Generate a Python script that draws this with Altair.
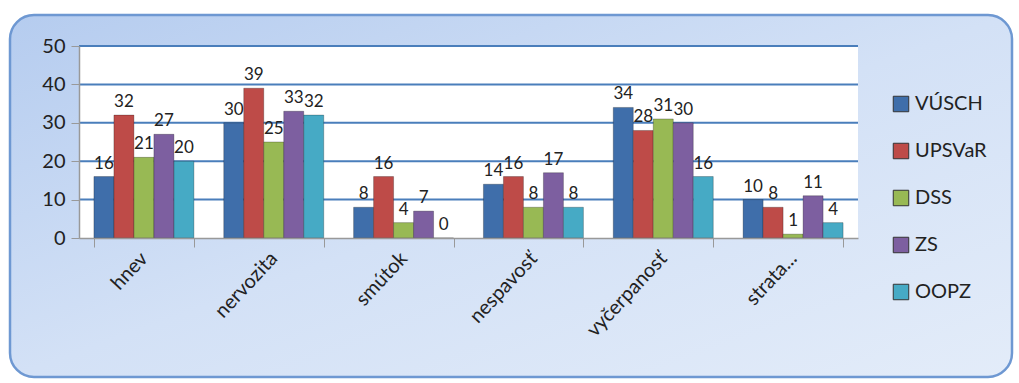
import altair as alt
import pandas as pd

categories = ["hnev", "nervozita", "smútok", "nespavosť", "vyčerpanosť", "strata..."]
series = ["VÚSCH", "UPSVaR", "DSS", "ZS", "OOPZ"]
colors = ["#3F6EAA", "#BE4B48", "#98B954", "#7D5FA0", "#46AAC5"]

vusch = [16, 30, 8, 14, 34, 10]
upsvar = [32, 39, 16, 16, 28, 8]
dss = [21, 25, 4, 8, 31, 1]
zs = [27, 33, 7, 17, 30, 11]
oopz = [20, 32, 0, 8, 16, 4]

y_ticks = [0, 10, 20, 30, 40, 50]

rows = []
for name, vals in zip(series, [vusch, upsvar, dss, zs, oopz]):
    for cat, v in zip(categories, vals):
        rows.append({"kategoria": cat, "skupina": name, "hodnota": v})
df = pd.DataFrame(rows)
grid_df = pd.DataFrame({"v": [t for t in y_ticks if t > 0]})
one = pd.DataFrame({"a": [0]})

FONT = "Lato"
W, H = 779, 192

y_scale = alt.Scale(domain=[0, 50], nice=False)
y_axis = alt.Axis(
    values=y_ticks,
    labelFontSize=20,
    labelFont=FONT,
    labelColor="#222222",
    labelPadding=6,
    tickSize=8,
    tickColor="#999999",
    domainColor="#999999",
    domainWidth=1.5,
    grid=False,
    zindex=1,
)

# decorative panel (rounded, gradient) and white plot area
panel = alt.Chart(one).mark_rect(
    cornerRadius=24,
    stroke="#6E98D2",
    strokeWidth=2.5,
    fill=alt.LinearGradient(
        gradient="linear",
        stops=[
            alt.GradientStop(color="#B5CCEF", offset=0),
            alt.GradientStop(color="#D3E1F6", offset=0.5),
            alt.GradientStop(color="#E3ECF9", offset=1),
        ],
        x1=0, y1=0, x2=1, y2=1,
    ),
).encode(
    x=alt.value(-69), x2=alt.value(933), y=alt.value(-31), y2=alt.value(331)
)

plot_bg = alt.Chart(one).mark_rect(fill="white").encode(
    x=alt.value(0), x2=alt.value(W), y=alt.value(0), y2=alt.value(H)
)

grid = alt.Chart(grid_df).mark_rule(color="#4A7EBB", strokeWidth=2).encode(
    y=alt.Y("v:Q", scale=y_scale, title=None, axis=y_axis)
)

base = alt.Chart(df).encode(
    x=alt.X(
        "kategoria:N",
        sort=categories,
        title=None,
        scale=alt.Scale(paddingInner=0.23, paddingOuter=0.115),
        axis=alt.Axis(
            labelAngle=-47,
            labelFontSize=20,
            labelFont=FONT,
            labelColor="#222222",
            labelPadding=8,
            tickBand="extent",
            tickSize=9,
            tickColor="#999999",
            domainColor="#999999",
            domainWidth=1.5,
            grid=False,
            zindex=1,
        ),
    ),
    xOffset=alt.XOffset("skupina:N", sort=series, scale=alt.Scale(paddingInner=0)),
    y=alt.Y("hodnota:Q", title=None, scale=y_scale, axis=y_axis),
)

bars = base.mark_bar(stroke="#000000", strokeOpacity=0.25, strokeWidth=1).encode(
    color=alt.Color(
        "skupina:N",
        sort=series,
        scale=alt.Scale(domain=series, range=colors),
        legend=alt.Legend(
            title=None,
            orient="none",
            legendX=812,
            legendY=48,
            symbolType="square",
            symbolSize=240,
            symbolStrokeColor="#333333",
            symbolStrokeWidth=1,
            labelFontSize=20,
            labelFont=FONT,
            labelColor="#222222",
            rowPadding=27,
            labelOffset=4,
        ),
    )
)

labels = base.mark_text(dy=-13, fontSize=17, font=FONT, color="#222222").encode(
    text="hodnota:Q"
)

chart = (
    alt.layer(panel, plot_bg, grid, bars, labels)
    .properties(
        width=W,
        height=H,
        padding={"left": 79, "top": 46, "right": 161, "bottom": 145},
        autosize=alt.AutoSizeParams(type="none"),
        background="white",
    )
    .configure_view(stroke=None)
)

chart.save("out.html", embed_options={"renderer": "svg", "actions": False})
